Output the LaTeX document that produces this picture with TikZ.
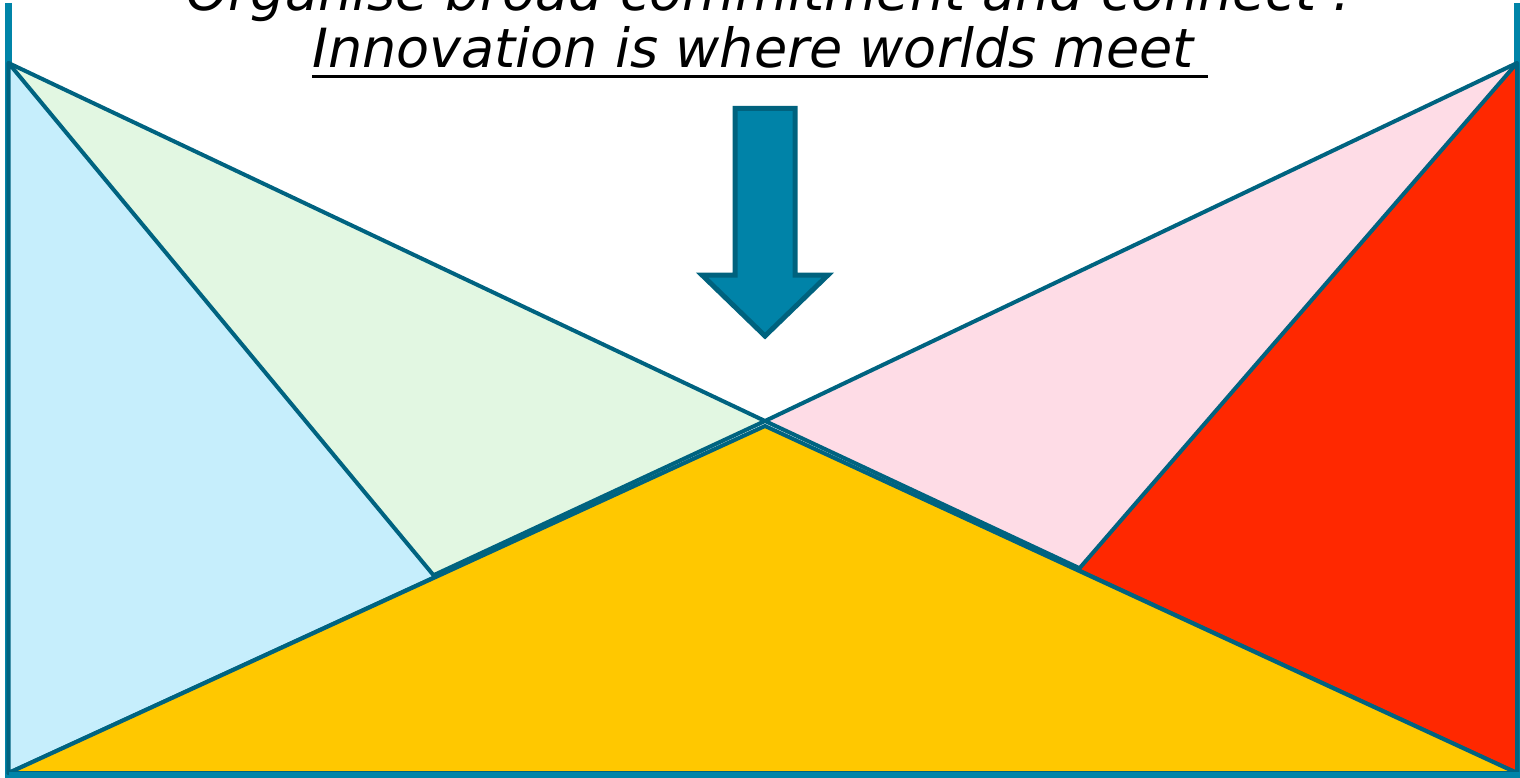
\documentclass[tikz,border=0pt]{standalone}
\usepackage{fontspec}
\setmainfont{DejaVu Sans}
\begin{document}
\begin{tikzpicture}[x=1pt,y=-1pt,
  framecol/.style={draw=frameC,line width=7pt},
  facet/.style={draw=edgeC,line width=4pt,line join=round},
  title/.style={font=\fontsize{54}{57}\selectfont\itshape,inner sep=0pt,anchor=base west}]
\definecolor{frameC}{HTML}{0084A8}
\definecolor{edgeC}{HTML}{006380}
\definecolor{skyC}{HTML}{C6EEFC}
\definecolor{mintC}{HTML}{E2F7E2}
\definecolor{roseC}{HTML}{FEDCE6}
\definecolor{redC}{HTML}{FF2800}
\definecolor{goldC}{HTML}{FFC800}
\definecolor{arrowC}{HTML}{0083A8}
\definecolor{arrowE}{HTML}{00627E}
\useasboundingbox (0,0) rectangle (1520,778);

% corner points of the envelope
\coordinate (tl) at (8.5,63);
\coordinate (tr) at (1517,63);
\coordinate (bl) at (8.5,773);
\coordinate (br) at (1517,773);
\coordinate (mid) at (765,421);
\coordinate (apex) at (765,426);
\coordinate (lk) at (435,577);
\coordinate (rk) at (1078,570);

% open frame
\draw[framecol] (8.5,3) -- (8.5,774) -- (1517,774) -- (1517,3);

% side panels
\draw[facet,fill=mintC] (tl) -- (mid) -- (bl) -- cycle;
\draw[facet,fill=roseC] (tr) -- (mid) -- (br) -- cycle;
\draw[facet,fill=skyC] (tl) -- (lk) -- (bl) -- cycle;
\draw[facet,fill=redC] (tr) -- (rk) -- (br) -- cycle;
% bottom panel
\draw[facet,fill=goldC] (bl) -- (apex) -- (br) -- cycle;

% base line of the frame
\draw[draw=frameC,line width=6pt] (8.5,774.5) -- (1520,774.5);

% down arrow
\draw[draw=arrowE,fill=arrowC,line width=5pt,line join=miter]
  (735,108.5) -- (795,108.5) -- (795,275) -- (828,275) -- (765,336)
  -- (702,275) -- (735,275) -- cycle;

% heading
\node[title] (t1) at (186,11) {Organise broad commitment and connect :};
\node[title] (t2) at (312,68) {Innovation is where worlds meet};
\draw[line width=3pt] ([yshift=-8.5pt]t2.base west) -- ([xshift=14pt,yshift=-8.5pt]t2.base east);
\end{tikzpicture}
\end{document}
